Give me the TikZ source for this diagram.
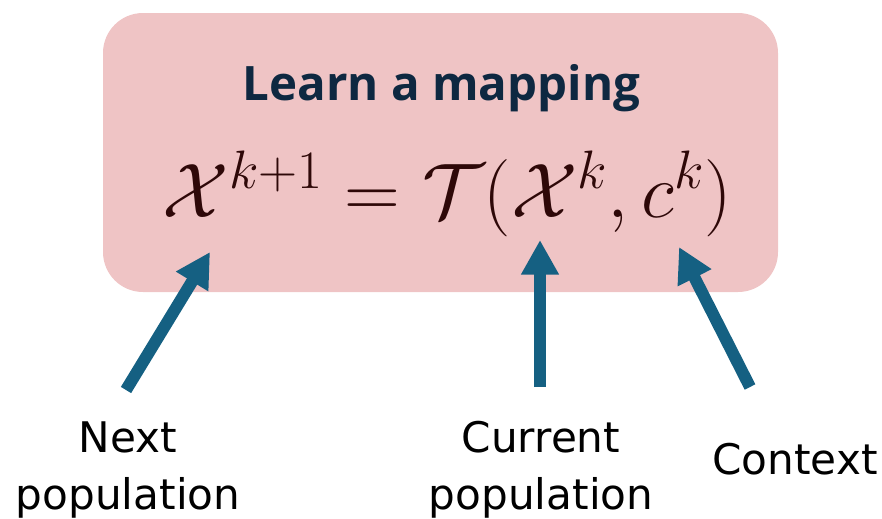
\RequirePackage{fix-cm}
\documentclass[tikz,border=0pt]{standalone}
\usepackage[no-math]{fontspec}
\usetikzlibrary{arrows.meta}
\newfontfamily\labelfont{DejaVu Sans}
\newfontfamily\titlefont{Open Sans}
\definecolor{boxpink}{HTML}{EFC4C5}
\definecolor{titleblue}{HTML}{0E2841}
\definecolor{arrowblue}{HTML}{156082}
\definecolor{eqbrown}{HTML}{2E0808}
\begin{document}
\begin{tikzpicture}[every node/.style={inner sep=0pt, align=center}, >={Triangle[length=0.69cm, width=0.71cm]}]
\useasboundingbox (0,0) rectangle (17.64,-10.36);
\node[fill=boxpink, rounded corners=0.8cm, minimum width=13.5cm, minimum height=5.58cm] (box) at (8.81,-3.05) {};

\node[anchor=base, text=titleblue, font=\titlefont\bfseries\fontsize{27}{30}\selectfont] (title) at (8.83,-2.0) {Learn a mapping};
\node[anchor=base, text=eqbrown, font=\fontsize{44}{50}\selectfont] (eq) at (8.95,-4.34) {$\mathcal{X}^{k+1} = \mathcal{T}(\mathcal{X}^k, c^k)$};

\node[anchor=base, font=\labelfont\fontsize{24}{32.3}\selectfont] (next) at (2.56,-10.18) {Next\\population};
\node[anchor=base, font=\labelfont\fontsize{24}{32.3}\selectfont] (curr) at (10.82,-10.18) {Current\\population};
\node[anchor=base, font=\labelfont\fontsize{24}{32.3}\selectfont] (ctx) at (15.9,-9.48) {Context};

\coordinate (n0) at (2.52,-7.80);
\coordinate (n1) at (4.20,-5.04);
\coordinate (c0) at (10.80,-7.74);
\coordinate (c1) at (10.80,-4.80);
\coordinate (x0) at (15.0,-7.74);
\coordinate (x1) at (13.58,-4.94);

\draw[->, line width=0.24cm, arrowblue] (n0) -- (n1);
\draw[->, line width=0.24cm, arrowblue] (c0) -- (c1);
\draw[->, line width=0.24cm, arrowblue] (x0) -- (x1);
\end{tikzpicture}
\end{document}
